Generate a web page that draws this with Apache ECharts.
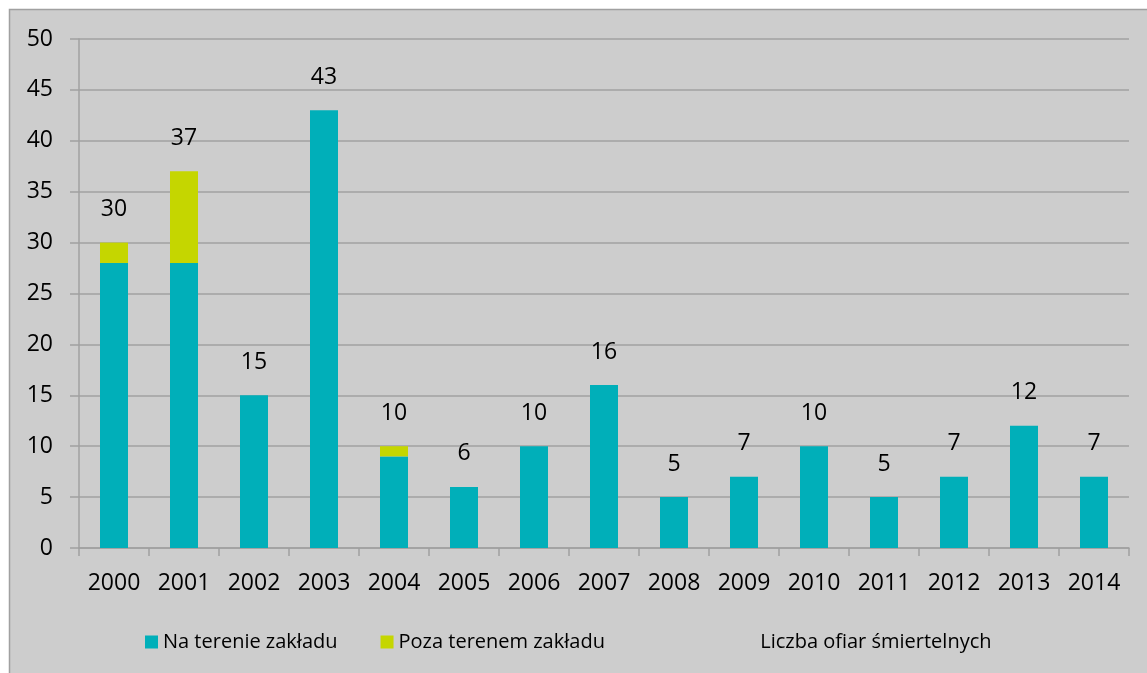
<!DOCTYPE html>
<html><head><meta charset="utf-8">
<script src="https://cdn.jsdelivr.net/npm/echarts@6/dist/echarts.min.js"></script>
<style>html,body{margin:0;padding:0;background:#fff}#c{width:1147px;height:673px}</style>
</head><body><div id="c"></div>
<script>
const years = ['2000','2001','2002','2003','2004','2005','2006','2007','2008','2009','2010','2011','2012','2013','2014'];
const onSite = [28,28,15,43,9,6,10,16,5,7,10,5,7,12,7];
const offSite = [2,9,0,0,1,0,0,0,0,0,0,0,0,0,0];
const totals = [30,37,15,43,10,6,10,16,5,7,10,5,7,12,7];
const yTicks = {min:0,max:50,interval:5};
const FONT = 'Open Sans';
const chart = echarts.init(document.getElementById('c'));
chart.setOption({
  animation:false,
  textStyle:{fontFamily:FONT},
  graphic:[{type:'rect',z:-10,shape:{x:9.5,y:9.5,width:1150,height:680},style:{fill:'#cdcdcd',stroke:'#a0a0a0',lineWidth:1.5}}],
  grid:{left:79,right:18,top:39,bottom:125,containLabel:false},
  legend:[{
    data:['Na terenie zakładu','Poza terenem zakładu'],
    left:140,top:627,itemWidth:13,itemHeight:13,itemGap:43,
    textStyle:{fontFamily:FONT,fontSize:20,color:'#000'},
    icon:'rect'
  },{
    data:['Liczba ofiar śmiertelnych'],
    left:745,top:627,itemWidth:0,itemHeight:13,
    textStyle:{fontFamily:FONT,fontSize:20,color:'#000'},
    itemStyle:{opacity:0},lineStyle:{opacity:0}
  }],
  xAxis:{type:'category',data:years,
    axisLine:{lineStyle:{color:'#a0a0a0',width:1.5}},
    axisTick:{show:true,length:8,lineStyle:{color:'#a0a0a0',width:1.5}},
    axisLabel:{fontFamily:FONT,fontSize:23,color:'#000',margin:24}},
  yAxis:{type:'value',min:yTicks.min,max:yTicks.max,interval:yTicks.interval,
    axisLine:{show:true,lineStyle:{color:'#a0a0a0',width:1.5}},
    axisTick:{show:true,length:9,lineStyle:{color:'#a0a0a0',width:1.5}},
    splitLine:{lineStyle:{color:'#a0a0a0',width:1.5}},
    axisLabel:{fontFamily:FONT,fontSize:23,color:'#000',margin:26}},
  series:[
    {name:'Na terenie zakładu',type:'bar',stack:'a',data:onSite,barWidth:'40%',itemStyle:{color:'#00afb9'}},
    {name:'Poza terenem zakładu',type:'bar',stack:'a',data:offSite,barWidth:'40%',itemStyle:{color:'#c5d600'}},
    {name:'Liczba ofiar śmiertelnych',type:'line',data:totals,symbol:'circle',showSymbol:true,symbolSize:1,
      lineStyle:{opacity:0},itemStyle:{color:'rgba(0,0,0,0)'},
      label:{show:true,position:'top',distance:21,fontFamily:FONT,fontSize:23,color:'#000'}}
  ]
});
</script></body></html>
